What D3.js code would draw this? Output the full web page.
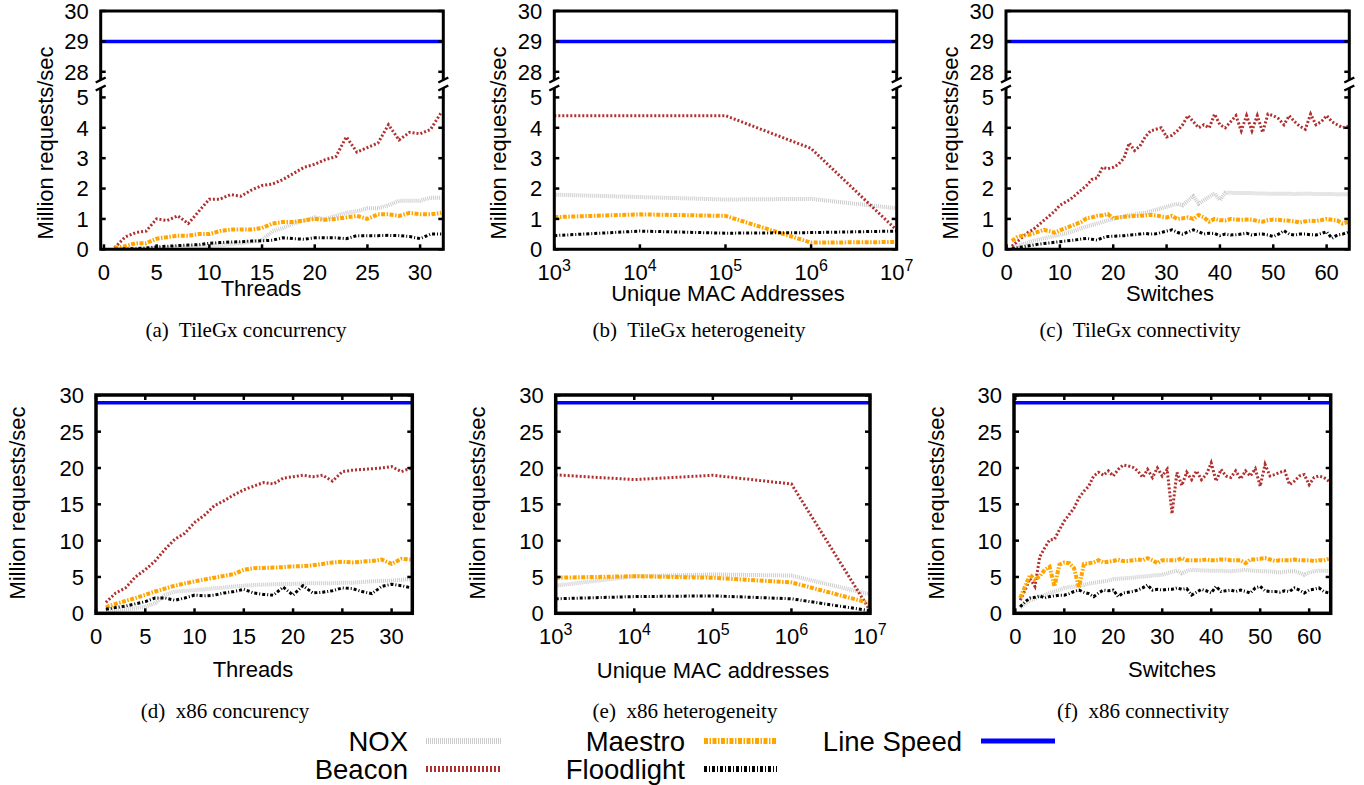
<!DOCTYPE html>
<html><head><meta charset="utf-8">
<script src="https://cdn.jsdelivr.net/npm/d3@7"></script>
<style>body{margin:0;background:#fff}svg{display:block}</style>
</head><body>
<svg id="chart" width="1364" height="785"></svg>
<script>
// ---------------- DATA ----------------
const threads = [1,2,3,4,5,6,7,8,9,10,11,12,13,14,15,16,17,18,19,20,21,22,23,24,25,26,27,28,29,30,31,32];
const switches = [1,2,3,4,5,6,7,8,9,10,11,12,13,14,15,16,17,18,19,20,21,22,23,24,25,26,27,28,29,30,31,32,
  33,34,35,36,37,38,39,40,41,42,43,44,45,46,47,48,49,50,51,52,53,54,55,56,57,58,59,60,61,62,63,64];
const macs = [1e3,1e4,1e5,1e6,1e7];
const lineSpeed = 29;
const seriesNames = ["NOX","Beacon","Maestro","Floodlight"];

// (a) TileGx concurrency
const aNOX = [0.0,0.02,0.03,0.04,0.05,0.06,0.07,0.08,0.09,0.1,0.13,0.17,0.2,0.25,0.3,0.6,0.7,0.85,0.95,1.05,1.0,1.1,1.2,1.25,1.35,1.35,1.45,1.6,1.6,1.6,1.7,1.7];
const aBeacon = [0.05,0.4,0.55,0.6,1.0,0.95,1.1,0.85,1.25,1.65,1.65,1.8,1.75,1.95,2.1,2.15,2.3,2.5,2.7,2.8,2.95,3.05,3.7,3.2,3.35,3.5,4.1,3.6,3.85,3.8,3.95,4.5];
const aMaestro = [0.05,0.1,0.2,0.2,0.35,0.4,0.45,0.45,0.5,0.5,0.6,0.65,0.65,0.65,0.7,0.85,0.9,0.9,0.95,1.0,0.97,1.0,1.05,1.1,1.0,1.15,1.15,1.1,1.2,1.15,1.15,1.2];
const aFloodlight = [0.0,0.01,0.02,0.04,0.08,0.1,0.12,0.14,0.15,0.2,0.22,0.24,0.25,0.27,0.28,0.3,0.38,0.35,0.33,0.38,0.38,0.38,0.35,0.45,0.45,0.45,0.46,0.45,0.42,0.35,0.5,0.5];

// (b) TileGx heterogeneity
const bNOX = [1.8,1.72,1.64,1.66,1.35];
const bBeacon = [4.4,4.4,4.4,3.32,0.63];
const bMaestro = [1.06,1.15,1.1,0.22,0.24];
const bFloodlight = [0.45,0.6,0.53,0.55,0.6];

// (c) TileGx connectivity
const cNOX = [0.07,0.12,0.17,0.22,0.28,0.32,0.36,0.4,0.44,0.47,0.52,0.57,0.63,0.69,0.75,0.8,0.85,0.9,0.95,1.0,
  1.05,1.08,1.13,1.15,1.18,1.2,1.25,1.3,1.35,1.4,1.45,1.5,1.45,1.6,1.75,1.5,1.62,1.73,1.84,1.62,
  1.86,1.86,1.85,1.85,1.85,1.85,1.84,1.84,1.83,1.83,1.83,1.83,1.83,1.82,1.83,1.83,1.83,1.82,1.82,1.82,1.82,1.81,1.81,1.81];
const cBeacon = [0.1,0.25,0.4,0.55,0.65,0.8,0.95,1.1,1.25,1.45,1.55,1.65,1.8,1.95,2.1,2.3,2.35,2.7,2.65,2.7,
  2.8,3.0,3.5,3.25,3.4,3.7,3.9,3.95,4.0,3.7,3.75,3.9,4.1,4.4,4.2,4.0,4.1,4.0,4.45,4.1,
  4.0,4.2,4.4,3.9,4.4,3.9,4.4,3.85,4.45,4.4,4.3,4.1,4.4,4.2,4.05,3.95,4.45,4.1,4.2,4.4,4.2,4.1,4.0,4.05];
const cMaestro = [0.28,0.4,0.45,0.47,0.52,0.58,0.64,0.6,0.55,0.62,0.69,0.76,0.83,0.9,1.02,1.05,1.1,1.12,1.16,1.02,
  1.05,1.07,1.08,1.1,1.1,1.12,1.13,1.12,1.08,1.05,1.1,1.0,1.02,1.05,1.0,1.13,1.05,0.91,1.0,0.96,
  0.95,1.0,0.98,0.97,0.98,0.98,0.93,0.91,0.96,0.98,0.97,0.95,0.94,0.92,0.88,0.92,0.94,0.93,0.96,1.0,0.97,0.95,0.85,0.9];
const cFloodlight = [0.02,0.05,0.08,0.11,0.14,0.17,0.19,0.21,0.23,0.25,0.27,0.29,0.31,0.34,0.36,0.33,0.3,0.38,0.42,0.43,
  0.44,0.45,0.47,0.48,0.5,0.52,0.5,0.51,0.55,0.6,0.64,0.56,0.5,0.57,0.64,0.58,0.5,0.53,0.52,0.45,
  0.5,0.47,0.48,0.5,0.53,0.47,0.5,0.5,0.47,0.42,0.5,0.61,0.5,0.47,0.5,0.5,0.48,0.47,0.52,0.58,0.36,0.47,0.5,0.56];

// (d) x86 concurrency
const dNOX = [0.46,0.5,0.55,0.7,0.9,1.4,2.5,3.0,3.1,3.2,3.3,3.45,3.55,3.7,3.8,3.9,3.95,4.0,4.05,4.05,4.1,4.15,4.15,4.15,4.2,4.2,4.3,4.4,4.45,4.5,4.6,4.7];
const dBeacon = [1.5,2.8,3.5,5.0,6.0,7.2,8.8,10.2,11.0,12.5,13.5,14.8,15.5,16.3,17.0,17.5,18.0,17.8,18.6,18.8,19.0,18.8,19.0,18.2,19.5,19.7,19.8,19.9,20.0,20.2,19.5,20.0];
const dMaestro = [0.83,1.3,1.7,2.1,2.55,3.0,3.4,3.8,4.1,4.4,4.65,4.9,5.15,5.4,6.0,6.2,6.25,6.3,6.35,6.45,6.5,6.6,6.8,7.0,7.1,7.0,7.1,7.2,7.4,6.8,7.5,7.4];
const dFloodlight = [0.55,0.8,1.0,1.3,1.6,2.1,2.1,1.8,2.1,2.5,2.4,2.5,2.8,3.0,3.3,2.8,2.6,2.5,3.6,2.5,3.8,2.8,2.9,3.1,3.5,3.4,3.0,2.7,3.7,4.0,3.8,3.5];

// (e) x86 heterogeneity
const eNOX = [3.8,5.1,5.35,5.2,2.6];
const eBeacon = [19.06,18.4,19.0,17.8,0.4];
const eMaestro = [4.9,5.1,4.9,4.25,1.4];
const eFloodlight = [2.0,2.3,2.4,2.0,0.35];

// (f) x86 connectivity
const fNOX = [0.8,1.3,1.8,2.0,2.3,2.5,2.8,3.0,3.2,3.5,3.6,3.7,3.8,3.9,4.1,4.2,4.3,4.4,4.5,4.7,
  4.75,4.8,4.85,4.9,5.0,5.05,5.1,5.2,5.25,5.3,5.5,5.7,5.9,5.5,5.8,6.0,5.95,5.9,5.9,5.85,
  5.85,5.85,5.8,5.8,5.85,5.9,6.0,5.9,5.85,5.8,5.8,5.75,5.7,5.6,5.7,5.8,5.8,5.6,5.3,5.6,5.8,5.85,5.85,5.85];
const fBeacon = [1.8,3.2,4.8,3.7,7.8,9.0,10.1,10.2,11.5,12.7,13.6,14.5,15.9,16.8,17.5,18.9,19.4,19.0,19.6,18.9,
  19.8,20.4,20.3,20.1,19.6,18.7,19.8,18.7,20.0,18.9,19.8,13.7,19.4,17.6,19.4,18.4,19.6,18.4,19.1,20.7,
  18.2,19.8,18.9,18.7,19.6,18.5,19.6,18.9,19.9,17.5,20.5,18.9,19.1,19.4,19.6,17.7,18.2,18.9,19.1,17.7,18.7,18.9,18.7,18.2];
const fMaestro = [2.1,3.7,5.3,4.6,5.1,6.0,6.4,3.7,6.7,7.0,6.9,6.2,3.5,6.8,6.9,7.0,7.3,7.0,7.1,7.2,
  7.4,7.2,7.2,7.3,7.4,7.3,7.6,7.3,6.9,7.3,7.3,7.3,7.3,7.6,7.3,7.3,7.3,7.3,7.4,7.3,
  7.3,7.4,7.4,7.3,7.3,7.3,6.9,7.4,7.4,7.5,7.6,7.4,7.2,7.3,7.3,7.3,7.4,7.3,7.3,7.3,7.2,7.3,7.3,7.5];
const fFloodlight = [0.9,1.6,2.1,2.2,2.4,2.1,2.3,2.4,2.5,2.5,2.7,3.0,3.2,2.9,2.7,2.3,2.8,3.2,3.1,3.2,
  2.3,2.8,2.9,3.0,3.2,3.5,3.9,3.2,3.3,3.2,3.3,3.3,3.5,3.3,3.4,2.5,2.9,3.3,3.1,2.8,
  3.7,3.0,3.1,3.2,3.0,3.2,3.0,2.8,3.5,3.7,3.1,3.0,3.0,2.9,3.1,3.0,3.5,3.2,2.8,3.2,3.3,3.5,3.0,2.8];

// tick labels
const linTicks32 = [0,5,10,15,20,25,30];
const linTicks64 = [0,10,20,30,40,50,60];
const logTicks = [1e3,1e4,1e5,1e6,1e7];
const yTicksTopLow = [0,1,2,3,4,5];
const yTicksTopHigh = [28,29,30];
const yTicksBottom = [0,5,10,15,20,25,30];

// ---------------- STYLES ----------------
const styles = {
  "NOX":        {color:"#cccccc", width:4,   dash:"1,1"},
  "Beacon":     {color:"#b03030", width:3,   dash:"2,2"},
  "Maestro":    {color:"#ffa500", width:4,   dash:"4,1.5,1.5,1.5"},
  "Floodlight": {color:"#000000", width:3,   dash:"3,2,1,2"},
  "Line Speed": {color:"#0000ff", width:3.5, dash:null}
};
const SANS = "'Liberation Sans', Arial, Helvetica, sans-serif";
const SERIF = "'Liberation Serif', 'Times New Roman', serif";

const svg = d3.select("#chart");

function pairs(xs, ys){ return xs.map((x,i)=>[x, ys[i]]); }

function drawPanel(p){
  const g = svg.append("g");
  const x = p.x;
  const L = x.range()[0], R = x.range()[1];
  const id = p.id;
  let yMain, yTop, bottom;
  if (p.broken){
    yMain = d3.scaleLinear().domain([0,5.31]).range([249.3,88]);
    yTop = d3.scaleLinear().domain([27.73,30]).range([80,11]);
    bottom = 249.3;
  } else {
    yMain = d3.scaleLinear().domain([0,30.05]).range([613.3,395]);
    yTop = yMain;
    bottom = 613.3;
  }
  // clip paths
  const defs = svg.append("defs");
  const [m0, m1] = yMain.range();
  defs.append("clipPath").attr("id","clipM"+id).append("rect")
    .attr("x",L).attr("y",Math.min(m0,m1)).attr("width",R-L).attr("height",Math.abs(m0-m1));
  const [t0, t1] = yTop.range();
  defs.append("clipPath").attr("id","clipT"+id).append("rect")
    .attr("x",L).attr("y",Math.min(t0,t1)).attr("width",R-L).attr("height",Math.abs(t0-t1));

  // series
  const line = d3.line().x(d=>x(d[0])).y(d=>yMain(d[1]));
  const lg = g.append("g").attr("clip-path","url(#clipM"+id+")");
  seriesNames.forEach((name,i)=>{
    const st = styles[name];
    lg.append("path").datum(pairs(p.xs, p.series[i]))
      .attr("d", line).attr("fill","none")
      .attr("stroke", st.color).attr("stroke-width", st.width)
      .attr("stroke-dasharray", st.dash).attr("stroke-linejoin","miter");
  });
  // line speed
  const dom = x.domain();
  const ls = styles["Line Speed"];
  g.append("g").attr("clip-path","url(#clipT"+id+")").append("path")
    .datum([[dom[0], lineSpeed],[dom[1], lineSpeed]])
    .attr("d", d3.line().x(d=>x(d[0])).y(d=>yTop(d[1])))
    .attr("stroke", ls.color).attr("stroke-width", ls.width).attr("fill","none");

  // frame
  const bw = p.broken ? 3 : 3.5;
  if (p.broken){
    const topY = yTop.range()[1], brkT = yTop.range()[0], brkB = yMain.range()[1];
    g.append("path").attr("d",`M${L},${brkT}V${topY}H${R}V${brkT}`)
      .attr("fill","none").attr("stroke","#000").attr("stroke-width",bw);
    g.append("path").attr("d",`M${L},${brkB}V${bottom}H${R}V${brkB}`)
      .attr("fill","none").attr("stroke","#000").attr("stroke-width",bw);
    // break marks
    [L,R].forEach(xx=>{
      [brkT, brkB].forEach(yy=>{
        g.append("path").attr("d",`M${xx-5},${yy+2.5}L${xx+5},${yy-2.5}`)
          .attr("stroke","#000").attr("stroke-width",2.5);
      });
    });
  } else {
    g.append("rect").attr("x",L).attr("y",395).attr("width",R-L).attr("height",bottom-395)
      .attr("fill","none").attr("stroke","#000").attr("stroke-width",bw);
  }

  // ticks
  const tk = 5;
  const tg = g.append("g").attr("stroke","#000").attr("stroke-width",2.5);
  const yTickSets = p.broken ? [[yMain, yTicksTopLow],[yTop, yTicksTopHigh]] : [[yMain, yTicksBottom]];
  yTickSets.forEach(([ys, ticks])=>{
    ticks.forEach(v=>{
      tg.append("line").attr("x1",L).attr("x2",L+tk).attr("y1",ys(v)).attr("y2",ys(v));
      tg.append("line").attr("x1",R).attr("x2",R-tk).attr("y1",ys(v)).attr("y2",ys(v));
      g.append("text").attr("x",L-12).attr("y",ys(v)).attr("dy","0.36em")
        .attr("text-anchor","end").attr("font-family",SANS).attr("font-size",22).text(v);
    });
  });
  p.xTicks.forEach(v=>{
    tg.append("line").attr("x1",x(v)).attr("x2",x(v)).attr("y1",bottom).attr("y2",bottom-tk);
    if (!p.broken) tg.append("line").attr("x1",x(v)).attr("x2",x(v)).attr("y1",395).attr("y2",395+tk);
    const t = g.append("text").attr("x",x(v)).attr("y",bottom+23).attr("dy","0.36em")
      .attr("text-anchor","middle").attr("font-family",SANS).attr("font-size",22);
    if (p.log){
      t.append("tspan").text("10");
      t.append("tspan").attr("font-size",16).attr("dy","-0.55em").text(Math.round(Math.log10(v)));
    } else t.text(v);
  });

  // axis labels
  g.append("text").attr("x",p.xLabelX).attr("y",p.xLabelY).attr("dy","0.36em")
    .attr("text-anchor","middle").attr("font-family",SANS).attr("font-size",22).text(p.xLabel);
  g.append("text").attr("transform",`translate(${p.yLabelX},${p.yLabelY}) rotate(-90)`)
    .attr("dy","0.36em").attr("text-anchor","middle").attr("font-family",SANS).attr("font-size",22)
    .text("Million requests/sec");
  g.append("text").attr("x",p.capX).attr("y",p.capY).attr("dy","0.35em")
    .attr("text-anchor","middle").attr("font-family",SERIF).attr("font-size",21)
    .style("white-space","pre").text(p.caption);
}

drawPanel({id:"a", broken:true, x:d3.scaleLinear().domain([-0.31,32.2]).range([100.7,443.3]),
  xs:threads, series:[aNOX,aBeacon,aMaestro,aFloodlight], xTicks:linTicks32,
  xLabel:"Threads", xLabelX:261, xLabelY:288, yLabelX:45, yLabelY:143,
  caption:"(a)  TileGx concurrency", capX:246, capY:330});
drawPanel({id:"b", broken:true, log:true, x:d3.scaleLog().domain([1e3,1e7]).range([554.3,896.7]),
  xs:macs, series:[bNOX,bBeacon,bMaestro,bFloodlight], xTicks:logTicks,
  xLabel:"Unique MAC Addresses", xLabelX:728, xLabelY:293, yLabelX:498, yLabelY:143,
  caption:"(b)  TileGx heterogeneity", capX:699, capY:330});
drawPanel({id:"c", broken:true, x:d3.scaleLinear().domain([-0.1,64.25]).range([1006,1349.3]),
  xs:switches, series:[cNOX,cBeacon,cMaestro,cFloodlight], xTicks:linTicks64,
  xLabel:"Switches", xLabelX:1170, xLabelY:293, yLabelX:950, yLabelY:143,
  caption:"(c)  TileGx connectivity", capX:1140, capY:330});
drawPanel({id:"d", broken:false, x:d3.scaleLinear().domain([0,32.1]).range([96,412.3]),
  xs:threads, series:[dNOX,dBeacon,dMaestro,dFloodlight], xTicks:linTicks32,
  xLabel:"Threads", xLabelX:253, xLabelY:669, yLabelX:17, yLabelY:503,
  caption:"(d)  x86 concurency", capX:225, capY:711});
drawPanel({id:"e", broken:false, log:true, x:d3.scaleLog().domain([1e3,1e7]).range([555.7,870]),
  xs:macs, series:[eNOX,eBeacon,eMaestro,eFloodlight], xTicks:logTicks,
  xLabel:"Unique MAC addresses", xLabelX:713, xLabelY:670, yLabelX:477, yLabelY:503,
  caption:"(e)  x86 heterogeneity", capX:685, capY:711});
drawPanel({id:"f", broken:false, x:d3.scaleLinear().domain([-0.27,64.4]).range([1014,1330.7]),
  xs:switches, series:[fNOX,fBeacon,fMaestro,fFloodlight], xTicks:linTicks64,
  xLabel:"Switches", xLabelX:1172, xLabelY:669, yLabelX:936, yLabelY:503,
  caption:"(f)  x86 connectivity", capX:1143, capY:711});

// ---------------- LEGEND ----------------
const legendItems = [
  {name:"NOX", tx:408, y:741, l0:426, l1:501},
  {name:"Beacon", tx:408, y:769, l0:426, l1:501},
  {name:"Maestro", tx:685, y:741, l0:704, l1:777},
  {name:"Floodlight", tx:685, y:769, l0:704, l1:777},
  {name:"Line Speed", tx:962, y:741, l0:981, l1:1055}
];
const leg = svg.append("g");
legendItems.forEach(it=>{
  const st = styles[it.name];
  leg.append("text").attr("x",it.tx).attr("y",it.y).attr("dy","0.36em")
    .attr("text-anchor","end").attr("font-family",SANS).attr("font-size",27.5).text(it.name);
  leg.append("line").attr("x1",it.l0).attr("x2",it.l1).attr("y1",it.y).attr("y2",it.y)
    .attr("stroke",st.color).attr("stroke-width",it.name==="Line Speed"?5:6)
    .attr("stroke-dasharray",st.dash);
});
</script>
</body></html>
